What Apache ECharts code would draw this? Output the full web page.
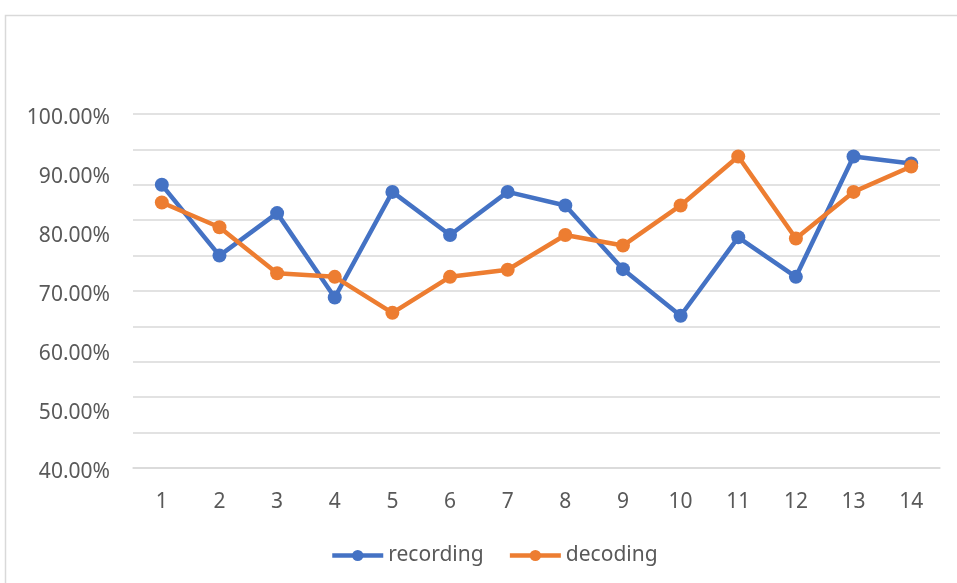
<!DOCTYPE html>
<html>
<head>
<meta charset="utf-8">
<script src="https://cdn.jsdelivr.net/npm/echarts@6/dist/echarts.min.js"></script>
<style>
  html, body { margin: 0; padding: 0; background: #fff; }
  #chart { width: 957px; height: 583px; }
</style>
</head>
<body>
<div id="chart"></div>
<script>
// Trial index on the x axis
const categories = ['1', '2', '3', '4', '5', '6', '7', '8', '9', '10', '11', '12', '13', '14'];

// Accuracy per trial
const recording = [0.880, 0.760, 0.832, 0.689, 0.868, 0.795, 0.868, 0.845, 0.737, 0.658, 0.791, 0.724, 0.928, 0.916];
const decoding  = [0.850, 0.808, 0.730, 0.724, 0.663, 0.724, 0.736, 0.795, 0.777, 0.845, 0.928, 0.789, 0.868, 0.911];

// Value axis labels
const yMin = 0.4;
const yMax = 1.0;
const yStep = 0.1;

const textColor = '#595959';
const gridColor = '#d9d9d9';
const font = 'Noto Sans';

const chart = echarts.init(document.getElementById('chart'));

chart.setOption({
  animation: false,
  graphic: [{
    type: 'rect',
    shape: { x: 5.5, y: 15.5, width: 1000, height: 600 },
    style: { fill: 'none', stroke: gridColor, lineWidth: 1.5 },
    silent: true
  }],
  grid: { left: 133, right: 17, top: 114, bottom: 115 },
  legend: {
    top: 540,
    left: 325,
    itemWidth: 51,
    itemHeight: 14,
    itemGap: 24,
    lineStyle: { width: 4.5 },
    textStyle: { color: textColor, fontSize: 21, fontFamily: font },
    data: ['recording', 'decoding']
  },
  xAxis: {
    type: 'category',
    data: categories,
    boundaryGap: true,
    axisLine: { show: true, lineStyle: { color: gridColor, width: 1.5 } },
    axisTick: { show: false },
    axisLabel: { color: textColor, fontSize: 21, fontFamily: font, margin: 24 }
  },
  yAxis: [{
    type: 'value',
    min: yMin,
    max: yMax,
    interval: yStep,
    axisLine: { show: false },
    axisTick: { show: false },
    splitLine: { show: false },
    axisLabel: {
      color: textColor, fontSize: 21, fontFamily: font, margin: 23,
      verticalAlign: 'top',
      lineHeight: 9,
      formatter: v => (v * 100).toFixed(2) + '%'
    }
  }, {
    // finer gridlines, ten bands across the value range
    type: 'value',
    position: 'left',
    min: 0,
    max: 10,
    interval: 1,
    axisLine: { show: false },
    axisTick: { show: false },
    axisLabel: { show: false },
    splitLine: { show: true, lineStyle: { color: gridColor, width: 1.5 } }
  }],
  series: [{
    name: 'recording',
    type: 'line',
    yAxisIndex: 0,
    data: recording,
    symbol: 'circle',
    symbolSize: 14,
    color: '#4472C4',
    lineStyle: { width: 4.5, color: '#4472C4' },
    itemStyle: { color: '#4472C4' },
    z: 3
  }, {
    name: 'decoding',
    type: 'line',
    yAxisIndex: 0,
    data: decoding,
    symbol: 'circle',
    symbolSize: 14,
    color: '#ED7D31',
    lineStyle: { width: 4.5, color: '#ED7D31' },
    itemStyle: { color: '#ED7D31' },
    z: 4
  }]
});
</script>
</body>
</html>
